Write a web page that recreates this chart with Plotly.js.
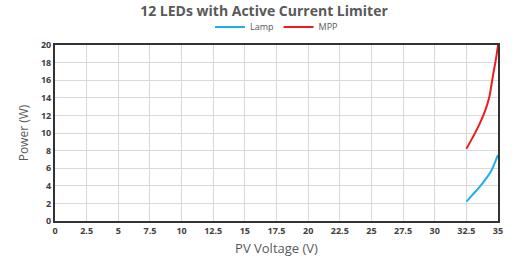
<!DOCTYPE html>
<html><head><meta charset="utf-8">
<script src="https://cdn.plot.ly/plotly-3.0.1.min.js"></script>
<style>html,body{margin:0;padding:0;background:#fff}#c{width:528px;height:267px}</style>
</head><body><div id="c"></div>
<script>
const lampV = [32.5, 33, 33.5, 34, 34.5, 34.8, 35];
const lampP = [2.2, 3.0, 3.8, 4.7, 5.8, 6.8, 7.5];
const mppV = [32.5, 33, 33.5, 34, 34.3, 34.6, 34.85, 35];
const mppP = [8.2, 9.5, 10.9, 12.6, 14, 16.5, 18.5, 20];
const xTicks = [0,2.5,5,7.5,10,12.5,15,17.5,20,22.5,25,27.5,30,32.5,35];
const yTicks = [0,2,4,6,8,10,12,14,16,18,20];

const fnt = "Open Sans, Liberation Sans, sans-serif";
Plotly.newPlot('c', [
  {x: lampV, y: lampP, name: 'Lamp', mode: 'lines', line: {color: '#1fb0e6', width: 2, shape: 'spline'}},
  {x: mppV, y: mppP, name: 'MPP', mode: 'lines', line: {color: '#f01c1c', width: 2, shape: 'spline'}}
], {
  width: 528, height: 267,
  margin: {l: 55, r: 30, t: 39, b: 46},
  paper_bgcolor: '#fff', plot_bgcolor: '#fff',
  font: {family: fnt, color: '#595959'},
  title: {text: '<b>12 LEDs with Active Current Limiter</b>', x: 0.5, xanchor: 'center', y: 0.975, yanchor: 'top', font: {size: 14, color: '#595959'}},
  showlegend: true,
  legend: {orientation: 'h', x: 0.5, xanchor: 'center', y: 1.02, yanchor: 'bottom', font: {size: 9, color: '#595959'}, itemwidth: 30, tracegroupgap: 0, bgcolor: 'rgba(0,0,0,0)'},
  xaxis: {range: [0, 35], tickvals: xTicks, ticktext: xTicks.map(String), showgrid: true, gridcolor: '#d9d9d9', gridwidth: 1,
    zeroline: false, showline: true, linecolor: '#333', linewidth: 2, mirror: true, ticks: '',
    tickfont: {size: 9, color: '#404040', family: fnt, weight: 'bold'},
    title: {text: 'PV Voltage (V)', font: {size: 13, color: '#595959'}, standoff: 8}},
  yaxis: {range: [0, 20], tickvals: yTicks, showgrid: true, gridcolor: '#d9d9d9', gridwidth: 1,
    zeroline: false, showline: true, linecolor: '#333', linewidth: 2, mirror: true, ticks: '',
    tickfont: {size: 9, color: '#404040', family: fnt, weight: 'bold'},
    title: {text: 'Power (W)', font: {size: 12, color: '#595959'}, standoff: 10}}
}, {displayModeBar: false, staticPlot: true});
</script></body></html>
